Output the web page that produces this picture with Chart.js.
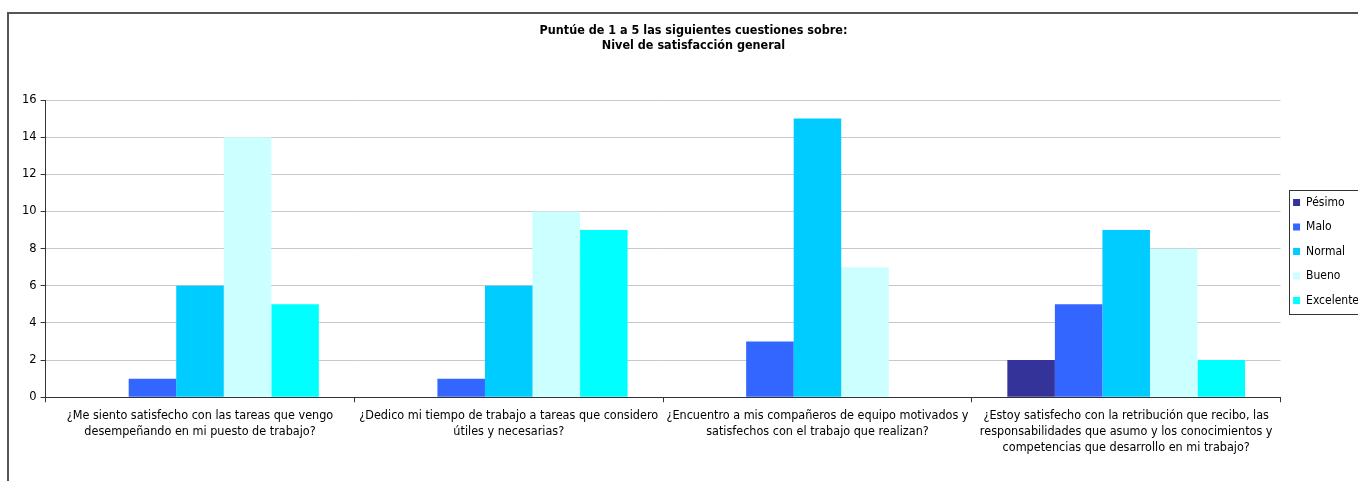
<!DOCTYPE html>
<html>
<head>
<meta charset="utf-8">
<script src="https://cdn.jsdelivr.net/npm/chart.js@4"></script>
<style>
  html, body { margin: 0; padding: 0; background: #fff; }
  #frame {
    position: absolute; left: 7px; top: 12px;
    width: 1351px; height: 469px;
    border-left: 2px solid #555; border-top: 2px solid #555;
  }
  #wrap { position: absolute; left: 0; top: 0; width: 1349px; height: 467px; }
</style>
</head>
<body>
<div id="frame"><div id="wrap"><canvas id="chart"></canvas></div></div>
<script>
// Categories (questions)
const questions = [
  ["¿Me siento satisfecho con las tareas que vengo", "desempeñando en mi puesto de trabajo?"],
  ["¿Dedico mi tiempo de trabajo a tareas que considero", "útiles y necesarias?"],
  ["¿Encuentro a mis compañeros de equipo motivados y", "satisfechos con el trabajo que realizan?"],
  ["¿Estoy satisfecho con la retribución que recibo, las", "responsabilidades que asumo y los conocimientos y", "competencias que desarrollo en mi trabajo?"]
];

// Series values
const pesimo    = [0, 0, 0, 2];
const malo      = [1, 1, 3, 5];
const normal    = [6, 6, 15, 9];
const bueno     = [14, 10, 7, 8];
const excelente = [5, 9, 0, 2];

const yTicks = [0, 2, 4, 6, 8, 10, 12, 14, 16];

const mk = (label, data, color) => ({
  label: label,
  data: data,
  backgroundColor: color,
  borderWidth: 0,
  categoryPercentage: 0.77,
  barPercentage: 1.0
});

// box around the legend, like the spreadsheet one
const legendBorder = {
  id: "legendBorder",
  afterDraw(chart) {
    const lg = chart.legend;
    if (!lg || !lg.legendHitBoxes.length) return;
    const boxes = lg.legendHitBoxes;
    const top = boxes[0].top - 7;
    const bottom = boxes[boxes.length - 1].top + boxes[boxes.length - 1].height + 7;
    const left = boxes[0].left - 4;
    const ctx = chart.ctx;
    ctx.save();
    ctx.strokeStyle = "#333";
    ctx.lineWidth = 1;
    ctx.strokeRect(Math.round(left) + 0.5, Math.round(top) + 0.5, chart.width - left + 10, Math.round(bottom - top));
    ctx.restore();
  }
};

new Chart(document.getElementById("chart"), {
  type: "bar",
  data: {
    labels: questions,
    datasets: [
      mk("Pésimo", pesimo, "#333399"),
      mk("Malo", malo, "#3366FF"),
      mk("Normal", normal, "#00CCFF"),
      mk("Bueno", bueno, "#CCFFFF"),
      mk("Excelente", excelente, "#00FFFF")
    ]
  },
  options: {
    responsive: true,
    maintainAspectRatio: false,
    animation: false,
    layout: { padding: { left: 9, right: -11, top: 0, bottom: 20 } },
    plugins: {
      title: {
        display: true,
        text: ["Puntúe de 1 a 5 las siguientes cuestiones sobre:", "Nivel de satisfacción general"],
        color: "#000",
        font: { family: "DejaVu Sans Condensed", size: 12.5, weight: "bold", lineHeight: 1.2 },
        padding: { top: 9, bottom: 47 }
      },
      legend: {
        position: "right",
        align: "center",
        title: { display: true, text: "", font: { size: 1 }, padding: { top: 13, bottom: 14 } },
        labels: {
          color: "#000",
          font: { family: "DejaVu Sans Condensed", size: 12 },
          boxWidth: 7,
          boxHeight: 7,
          padding: 12.5,
          useBorderRadius: false
        }
      },
      tooltip: { enabled: false }
    },
    scales: {
      x: {
        grid: { display: true, drawOnChartArea: false, tickLength: 5, color: "#333", offset: true },
        border: { color: "#333", width: 1 },
        ticks: {
          color: "#000",
          maxRotation: 0,
          autoSkip: false,
          padding: 5,
          font: { family: "DejaVu Sans Condensed", size: 12.5, lineHeight: 1.3 }
        }
      },
      y: {
        min: 0,
        max: 16,
        afterBuildTicks: (axis) => { axis.ticks = yTicks.map(v => ({ value: v })); },
        grid: { color: "#c8c8c8", tickLength: 5, tickColor: "#333" },
        border: { color: "#333", width: 1 },
        ticks: {
          color: "#000",
          padding: 4,
          font: { family: "DejaVu Sans", size: 11.5 }
        }
      }
    }
  },
  plugins: [legendBorder]
});
</script>
</body>
</html>
